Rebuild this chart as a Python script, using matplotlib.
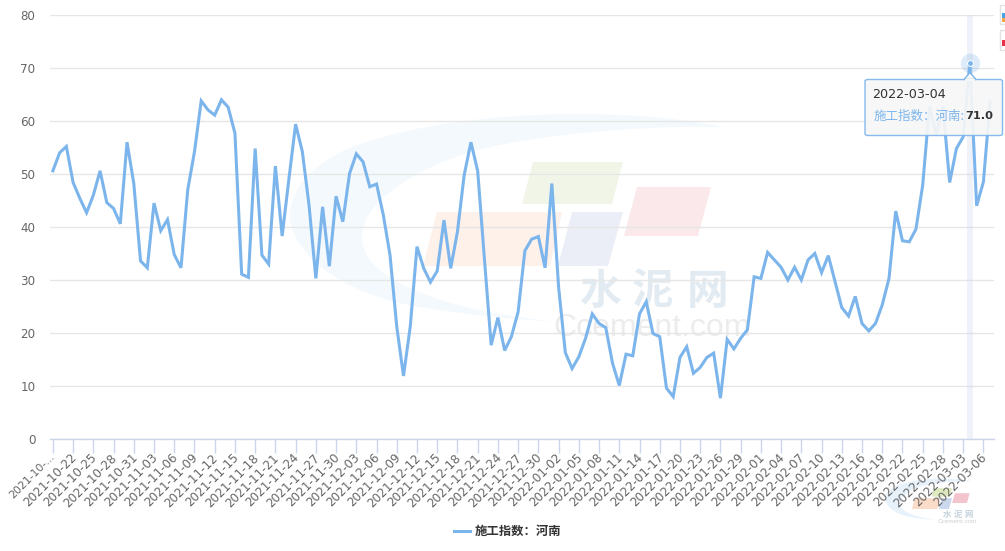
import matplotlib.pyplot as plt
import pandas as pd
from matplotlib.patches import FancyBboxPatch, PathPatch, Polygon, Rectangle
from matplotlib.path import Path
from matplotlib.transforms import ScaledTranslation

OUTPUT_PATH = "out.png"
WIDTH, HEIGHT = 1005, 551

dates = pd.date_range("2021-10-19", periods=140).strftime("%Y-%m-%d").tolist()
henan = [
    50.6, 54.0, 55.2, 48.4, 45.4, 42.7, 46.0, 50.6, 44.6, 43.5,
    40.6, 56.0, 48.2, 33.6, 32.3, 44.5, 39.3, 41.4, 34.8, 32.3,
    47.0, 54.2, 63.8, 62.1, 61.1, 64.0, 62.6, 57.7, 31.1, 30.5,
    54.8, 34.7, 33.0, 51.5, 38.3, 49.0, 59.4, 54.2, 44.0, 30.3,
    43.8, 32.6, 45.8, 41.0, 50.1, 53.8, 52.3, 47.6, 48.1, 42.3,
    34.7, 21.2, 11.9, 21.2, 36.3, 32.2, 29.6, 31.7, 41.3, 32.2,
    39.1, 49.8, 56.0, 50.6, 34.0, 17.7, 22.9, 16.7, 19.3, 24.0,
    35.5, 37.7, 38.2, 32.3, 48.2, 28.7, 16.3, 13.3, 15.5, 19.0,
    23.6, 21.8, 21.0, 14.3, 10.1, 16.0, 15.7, 23.6, 25.9, 19.9,
    19.3, 9.6, 8.0, 15.4, 17.4, 12.4, 13.5, 15.4, 16.2, 7.7,
    18.8, 17.0, 19.0, 20.6, 30.6, 30.3, 35.2, 33.8, 32.4, 30.0,
    32.4, 30.0, 33.8, 35.0, 31.4, 34.6, 29.7, 24.8, 23.2, 26.9,
    21.8, 20.4, 21.8, 25.3, 30.3, 43.0, 37.4, 37.2, 39.6, 47.9,
    62.8, 57.4, 62.7, 48.4, 54.8, 57.0, 71.0, 44.0, 48.5, 63.6,
]
y_ticks = [0, 10, 20, 30, 40, 50, 60, 70, 80]
series_name = "施工指数：河南"
hover_date = "2022-03-04"

LINE_BLUE = "#7cb5ec"
CJK = ["Noto Sans CJK SC", "DejaVu Sans"]

SWOOSH = [
    (Path.MOVETO, (723, 127)),
    (Path.CURVE4, (620, 105)), (Path.CURVE4, (440, 110)), (Path.CURVE4, (345, 150)),
    (Path.CURVE4, (310, 167)), (Path.CURVE4, (290, 190)), (Path.CURVE4, (290, 217)),
    (Path.CURVE4, (290, 250)), (Path.CURVE4, (340, 295)), (Path.CURVE4, (420, 307)),
    (Path.CURVE4, (470, 315)), (Path.CURVE4, (520, 320)), (Path.CURVE4, (560, 322)),
    (Path.CURVE4, (480, 315)), (Path.CURVE4, (362, 290)), (Path.CURVE4, (362, 237)),
    (Path.CURVE4, (362, 200)), (Path.CURVE4, (420, 168)), (Path.CURVE4, (467, 153)),
    (Path.CURVE4, (510, 140)), (Path.CURVE4, (610, 125)), (Path.CURVE4, (723, 127)),
]
TILES = {
    "orange": [(437, 212), (562, 212), (550, 266), (423, 266)],
    "green": [(533, 162), (623, 162), (612, 204), (522, 204)],
    "blue": [(572, 212), (623, 212), (608, 266), (558, 266)],
    "pink": [(637, 187), (711, 187), (698, 236), (624, 236)],
}
BIG_COLORS = {"swoosh": "#f3f9fd", "orange": "#fdf1ea", "green": "#f1f5e8", "blue": "#ebeef6",
              "pink": "#fbe8ea", "cn": "#e3ebf2", "en": "#ececec"}
SMALL_COLORS = {"swoosh": "#e8f2fb", "orange": "#fbdcc8", "green": "#dfeabf", "blue": "#cbd7ec",
                "pink": "#f4c4cc", "cn": "#c4d2dc", "en": "#cfcfcf"}


def px_x(x):
    return x / WIDTH


def px_y(y):
    return 1 - y / HEIGHT


def draw_watermark(fig, ox, oy, s, colors):
    # everything is laid out for the big mark, (ox, oy) moves and s shrinks it
    def to_fig(x, y):
        return px_x(ox + (x - 600) * s), px_y(oy + (y - 235) * s)

    codes = [c for c, _ in SWOOSH]
    verts = [to_fig(*p) for _, p in SWOOSH]
    fig.add_artist(PathPatch(Path(verts, codes), transform=fig.transFigure,
                             facecolor=colors["swoosh"], edgecolor="none", zorder=-1))
    for name, corners in TILES.items():
        fig.add_artist(Polygon([to_fig(*p) for p in corners], closed=True, transform=fig.transFigure,
                               facecolor=colors[name], edgecolor="none", zorder=-1))
    for char, x in zip("水泥网", [600, 653, 708]):
        fx, fy = to_fig(x, 292)
        fig.text(fx, fy, char, fontsize=30 * s, color=colors["cn"], family=CJK, weight="bold",
                 ha="center", va="center", zorder=-1)
    fx, fy = to_fig(652, 328)
    fig.text(fx, fy, "Ccement.com", fontsize=23 * s, color=colors["en"], family="Liberation Sans",
             ha="center", va="center", zorder=-1)


fig = plt.figure(figsize=(WIDTH / 100, HEIGHT / 100), dpi=100, facecolor="white")
draw_watermark(fig, 600, 235, 1.0, BIG_COLORS)
draw_watermark(fig, 947.4, 502.8, 0.2, SMALL_COLORS)

ax = fig.add_axes([px_x(49.5), px_y(439), (993.5 - 49.5) / WIDTH, (439 - 15) / HEIGHT])
ax.patch.set_alpha(0)
ax.set_xlim(-0.5, len(dates) - 0.5)
ax.set_ylim(0, 80)

hover_idx = dates.index(hover_date)
ax.axvspan(hover_idx - 0.5, hover_idx + 0.5, color="#ccd6eb", alpha=0.3, lw=0, zorder=1)
ax.plot(range(len(dates)), henan, color=LINE_BLUE, lw=2.2, solid_joinstyle="miter", zorder=3)
ax.scatter([hover_idx], [henan[hover_idx]], s=196, color=LINE_BLUE, alpha=0.25, lw=0, zorder=4, clip_on=False)
ax.scatter([hover_idx], [henan[hover_idx]], s=18, color=LINE_BLUE, edgecolor="white", lw=0.7, zorder=5)

ax.set_yticks(y_ticks)
ax.grid(axis="y", color="#e6e6e6", lw=1)
ax.set_axisbelow(True)
for side in ["top", "right", "left"]:
    ax.spines[side].set_visible(False)
ax.spines["bottom"].set_color("#ccd6eb")
ax.spines["bottom"].set_linewidth(1)
ax.tick_params(axis="y", length=0, labelsize=8.6, labelcolor="#666666", pad=10)

tick_positions = list(range(0, len(dates), 3))
tick_labels = [dates[i] for i in tick_positions]
tick_labels[0] = "2021-10-..."
ax.set_xticks(tick_positions, tick_labels)
ax.tick_params(axis="x", length=10, width=1, color="#ccd6eb", labelsize=8.64, labelcolor="#666666", pad=1)
label_shift = ScaledTranslation(-3 / 100, 3 / 100, fig.dpi_scale_trans)
for label in ax.get_xticklabels():
    label.set_rotation(45)
    label.set_ha("right")
    label.set_va("top")
    label.set_rotation_mode("anchor")
    label.set_transform(label.get_transform() + label_shift)
ax.get_xticklabels()[0].set_fontsize(7.8)

# legend
fig.add_artist(plt.Line2D([px_x(454), px_x(470)], [px_y(531), px_y(531)], color=LINE_BLUE, lw=2.2))
fig.text(px_x(475), px_y(531), series_name, fontsize=8.9, color="#333333", family=CJK,
         weight="bold", ha="left", va="center")

# tooltip
fig.add_artist(FancyBboxPatch((px_x(865), px_y(135.5)), 137.5 / WIDTH, 56 / HEIGHT,
                              boxstyle="round,pad=0,rounding_size=0.003", transform=fig.transFigure,
                              facecolor="#f7f7f7", edgecolor=LINE_BLUE, lw=1, alpha=0.92, zorder=6))
fig.add_artist(Polygon([(px_x(964), px_y(79.5)), (px_x(970), px_y(72.5)), (px_x(976), px_y(79.5))],
                       closed=True, transform=fig.transFigure, facecolor="#f7f7f7",
                       edgecolor=LINE_BLUE, lw=1, zorder=6))
fig.add_artist(Rectangle((px_x(964.8), px_y(81)), 10.4 / WIDTH, 2.5 / HEIGHT, transform=fig.transFigure,
                         facecolor="#f7f7f7", edgecolor="none", zorder=7))
fig.text(px_x(872), px_y(95), hover_date, fontsize=9.2, color="#333333", va="center", zorder=8)
fig.text(px_x(874), px_y(116), "施工指数：河南:", fontsize=9, color=LINE_BLUE, family=CJK, va="center", zorder=8)
fig.text(px_x(965), px_y(116), f"{henan[hover_idx]:.1f}", fontsize=8.2, color="#333333",
         weight="bold", va="center", zorder=8)

# clipped toolbar icons at the right edge
for top, bottom, fills in [(5, 24, [(13, 18, "#4aa3df"), (18, 22, "#f5a54c")]), (30, 50, [(40, 46, "#e8304a")])]:
    fig.add_artist(Rectangle((px_x(999.5), px_y(bottom)), 8 / WIDTH, (bottom - top) / HEIGHT,
                             transform=fig.transFigure, facecolor="white", edgecolor="#e3e3e3", lw=1, zorder=6))
    for y0, y1, color in fills:
        fig.add_artist(Rectangle((px_x(1002), px_y(y1)), 3 / WIDTH, (y1 - y0) / HEIGHT, transform=fig.transFigure,
                                 facecolor=color, edgecolor="none", zorder=7))

fig.savefig(OUTPUT_PATH, dpi=100)
plt.close()
